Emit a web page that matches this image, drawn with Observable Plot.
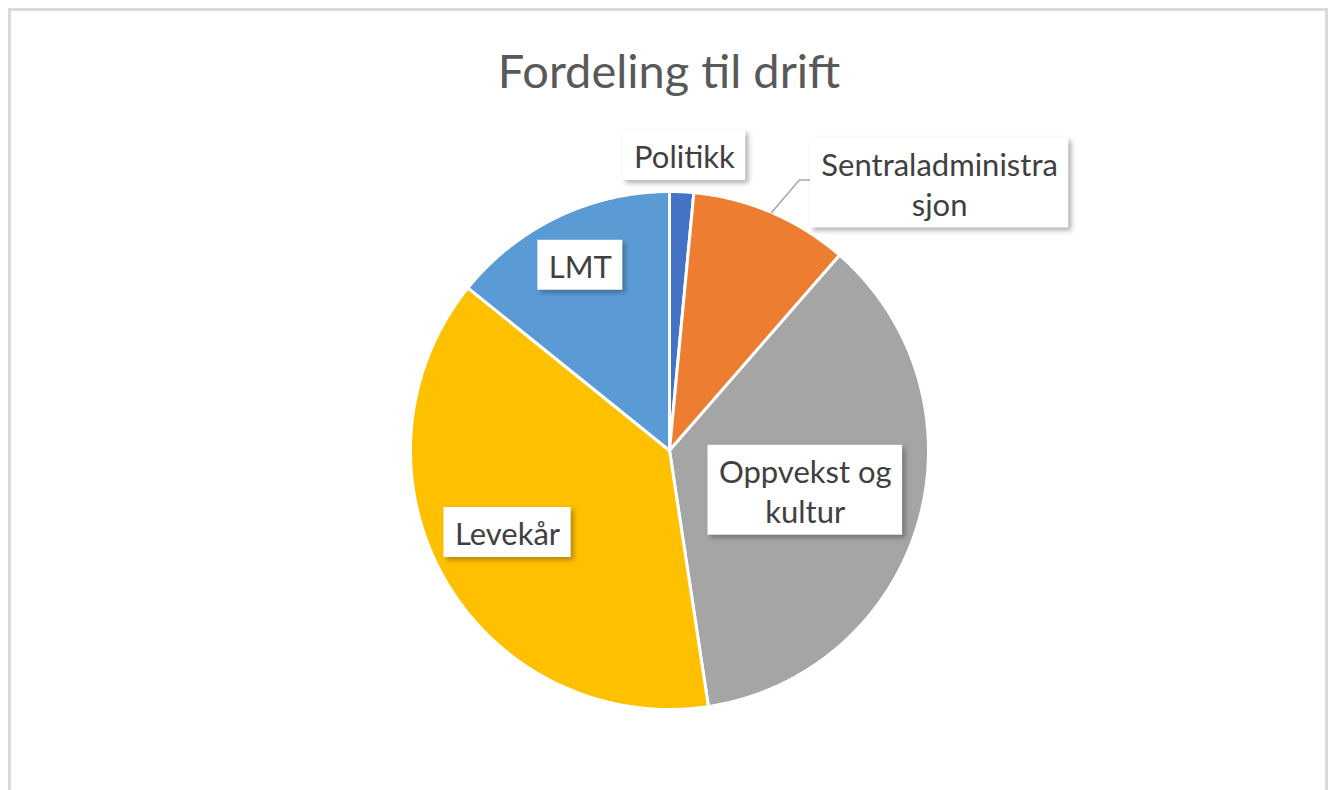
<!DOCTYPE html>
<html><head><meta charset="utf-8">
<script src="https://cdn.jsdelivr.net/npm/d3@7"></script>
<script src="https://cdn.jsdelivr.net/npm/@observablehq/plot@0.6"></script>
<style>
body{margin:0;background:#fff;width:1331px;height:790px;overflow:hidden;position:relative;font-family:Lato,"Open Sans",sans-serif;}
#frame{position:absolute;left:8px;top:8px;width:1314px;height:800px;border:3px solid #d9d9d9;}
#title{position:absolute;left:0;top:42px;width:1338px;text-align:center;font-size:47px;line-height:1.2;color:#595959;font-family:Lato,sans-serif;}
#chart{position:absolute;left:0;top:110px;}
g[fill="#1a1a1a"]{filter:blur(2.5px);}
</style></head>
<body><div id="frame"></div><div id="title">Fordeling til drift</div><div id="chart"></div>
<script>
// ---- data ----
const categories = ["Politikk", "Sentraladministrasjon", "Oppvekst og kultur", "Levekår", "LMT"];
const values = [1.5, 9.9, 36.2, 38.2, 14.2];
const labelText = ["Politikk", "Sentraladministra\nsjon", "Oppvekst og\nkultur", "Levekår", "LMT"];
const colors = ["#4472C4", "#ED7D31", "#A5A5A5", "#FFC000", "#5B9BD5"];

// ---- layout ----
const W = 1331, H = 680, R = 259, CX = 669, CY = 340;
const FS = 31, LH = 1.29;
const labelLayout = [
  {k: 1.14, dx: 1, dy: 0},
  {k: 1.46, dx: 121, dy: 80, leader: true},
  {k: 0.55, dx: -1, dy: 0},
  {k: 0.69, dx: -7, dy: -7},
  {k: 0.78, dx: -2, dy: -3}
];

const total = d3.sum(values);
let acc = 0;
const slices = categories.map((c, i) => {
  const a0 = acc / total * 2 * Math.PI; acc += values[i];
  const a1 = acc / total * 2 * Math.PI;
  return {c, i, a0, a1, mid: (a0 + a1) / 2};
});
const slicePts = slices.map(s => {
  const n = Math.max(2, Math.ceil((s.a1 - s.a0) / 0.005));
  const pts = [{x: 0, y: 0}];
  for (let j = 0; j <= n; j++) {
    const t = s.a0 + (s.a1 - s.a0) * j / n;
    pts.push({x: Math.sin(t), y: Math.cos(t)});
  }
  pts.push({x: 0, y: 0});
  return pts;
});

const ctx = document.createElement("canvas").getContext("2d");
ctx.font = `${FS}px Lato`;
const labels = slices.map((s, i) => {
  const L = labelLayout[i];
  const x = L.k * Math.sin(s.mid) + L.dx / R;
  const y = L.k * Math.cos(s.mid) - L.dy / R;
  const lines = labelText[i].split("\n");
  const tw = d3.max(lines, l => ctx.measureText(l).width);
  const w = (tw + 22) / R, h = (lines.length * FS * LH + 10) / R;
  return {x, y, text: labelText[i], x1: x - w / 2, x2: x + w / 2, y1: y - h / 2, y2: y + h / 2, s, L};
});
const leaders = labels.filter(d => d.L.leader).map(d => [
  {x: Math.sin(d.s.mid), y: Math.cos(d.s.mid)},
  {x: d.x1 - 11 / R, y: d.y + 3 / R},
  {x: d.x1, y: d.y + 3 / R}
]);

const plot = Plot.plot({
  width: W, height: H,
  margin: 0,
  x: {domain: [-CX / R, (W - CX) / R], range: [0, W], axis: null},
  y: {domain: [-(H - CY) / R, CY / R], range: [H, 0], axis: null},
  style: {background: "transparent", fontFamily: "Lato, sans-serif"},
  marks: [
    ...slicePts.map((pts, i) => Plot.line(pts, {x: "x", y: "y", fill: colors[i], stroke: "white", strokeWidth: 3, strokeLinejoin: "round"})),
    ...leaders.map(pts => Plot.line(pts, {x: "x", y: "y", stroke: "#a6a6a6", strokeWidth: 1.5})),
    Plot.rect(labels, {x1: "x1", x2: "x2", y1: "y1", y2: "y2", fill: "#1a1a1a", fillOpacity: 0.35, dx: 3, dy: 3}),
    Plot.rect(labels, {x1: "x1", x2: "x2", y1: "y1", y2: "y2", fill: "white"}),
    Plot.text(labels, {x: "x", y: "y", text: "text", fontSize: FS, lineHeight: LH, fill: "#404040", fontFamily: "Lato, sans-serif"})
  ]
});
document.getElementById("chart").appendChild(plot);
</script></body></html>
